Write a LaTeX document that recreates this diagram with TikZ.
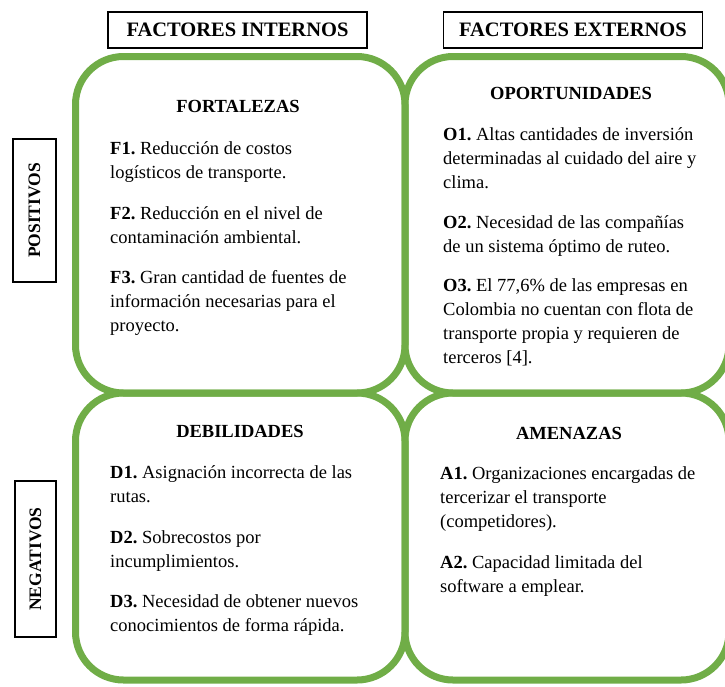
\documentclass[tikz,border=0pt]{standalone}
\usepackage{fontspec}
\setmainfont{Liberation Serif}
\definecolor{swotgreen}{HTML}{70AD47}
\frenchspacing
\begin{document}
\begin{tikzpicture}[x=1pt,y=-1pt,
  quad/.style={draw=swotgreen, line width=7pt, rounded corners=48pt, inner sep=0pt},
  headbox/.style={draw=black, line width=1.2pt, inner sep=0pt, minimum width=259pt, minimum height=36pt,
    font=\fontsize{20.5}{24}\selectfont\bfseries},
  sidebox/.style={draw=black, line width=1.2pt, inner sep=0pt, rotate=90,
    font=\fontsize{17.5}{21}\selectfont\bfseries},
  quadtitle/.style={anchor=base, inner sep=0pt, font=\fontsize{18.5}{24}\selectfont\bfseries},
  item/.style={anchor=north west, inner sep=0pt, align=left, font=\fontsize{18.5}{24}\selectfont}]
\useasboundingbox (0,0) rectangle (725,686);

% column headers
\node[headbox] (intern) at (237.5,30) {FACTORES INTERNOS};
\node[headbox] (extern) at (573,30) {FACTORES EXTERNOS};

% row labels
\node[sidebox, minimum width=143pt, minimum height=43pt] (pos) at (34.5,210.5) {POSITIVOS};
\node[sidebox, minimum width=156pt, minimum height=41pt] (neg) at (35.5,559) {NEGATIVOS};

% the four quadrants
\node[quad, minimum width=329.5pt, minimum height=336.5pt] (fort) at (240.25,224.75) {};
\node[quad, minimum width=324pt, minimum height=336.5pt] (opor) at (567,224.75) {};
\node[quad, minimum width=329.5pt, minimum height=287pt] (debil) at (240.25,536.5) {};
\node[quad, minimum width=324pt, minimum height=287pt] (amen) at (567,536.5) {};

% strengths
\node[quadtitle] (fortT) at (238,112) {FORTALEZAS};
\node[item] (f1) at (110,137.2) {\strut\textbf{F1.} Reducción de costos\\logísticos de transporte.};
\node[item] (f2) at (110,202.2) {\strut\textbf{F2.} Reducción en el nivel de\\contaminación ambiental.};
\node[item] (f3) at (110,266.2) {\strut\textbf{F3.} Gran cantidad de fuentes de\\información necesarias para el\\proyecto.};

% opportunities
\node[quadtitle] (oporT) at (571,99) {OPORTUNIDADES};
\node[item] (o1) at (443,123.2) {\strut\textbf{O1.} Altas cantidades de inversión\\determinadas al cuidado del aire y\\clima.};
\node[item] (o2) at (443,211.2) {\strut\textbf{O2.} Necesidad de las compañías\\de un sistema óptimo de ruteo.};
\node[item] (o3) at (443,274.2) {\strut\textbf{O3.} El 77,6\% de las empresas en\\Colombia no cuentan con flota de\\transporte propia y requieren de\\terceros [4].};

% weaknesses
\node[quadtitle] (debilT) at (240,437) {DEBILIDADES};
\node[item] (d1) at (110,461.2) {\strut\textbf{D1.} Asignación incorrecta de las\\rutas.};
\node[item] (d2) at (110,526.2) {\strut\textbf{D2.} Sobrecostos por\\incumplimientos.};
\node[item] (d3) at (110,590.2) {\strut\textbf{D3.} Necesidad de obtener nuevos\\conocimientos de forma rápida.};

% threats
\node[quadtitle] (amenT) at (569,439) {AMENAZAS};
\node[item] (a1) at (440,462.2) {\strut\textbf{A1.} Organizaciones encargadas de\\tercerizar el transporte\\(competidores).};
\node[item] (a2) at (440,551.2) {\strut\textbf{A2.} Capacidad limitada del\\software a emplear.};
\end{tikzpicture}
\end{document}
